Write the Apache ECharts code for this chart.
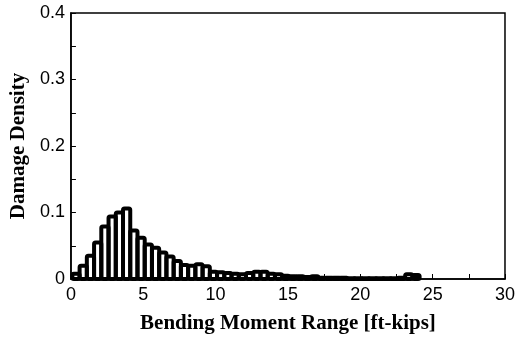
<!DOCTYPE html>
<html><head><meta charset="utf-8">
<script src="https://cdn.jsdelivr.net/npm/echarts@6/dist/echarts.min.js"></script>
<style>html,body{margin:0;padding:0;background:#fff}#c{width:518px;height:339px}</style>
</head><body><div id="c"></div>
<script>
// bin centres [ft-kips]
const binCenters = [0.35,0.85,1.35,1.85,2.35,2.85,3.35,3.85,4.35,4.85,5.35,5.85,6.35,6.85,7.35,7.85,
  8.35,8.85,9.35,9.85,10.35,10.85,11.35,11.85,12.35,12.85,13.35,13.85,14.35,14.85,15.35,15.85,
  16.35,16.85,17.35,17.85,18.35,18.85,19.35,19.85,20.35,20.85,21.35,21.85,22.35,22.85,23.35,23.85];
// damage density per bin
const density = [0.008,0.020,0.035,0.055,0.079,0.094,0.100,0.106,0.073,0.062,0.052,0.047,0.040,0.034,0.027,0.021,
  0.020,0.022,0.019,0.011,0.010,0.009,0.008,0.007,0.009,0.011,0.011,0.008,0.007,0.005,0.004,0.004,
  0.003,0.004,0.002,0.002,0.002,0.002,0.001,0.001,0.001,0.001,0.001,0.001,0.001,0.002,0.007,0.006];
const xTicks = [0,5,10,15,20,25,30];
const yTicks = [0,0.1,0.2,0.3,0.4];
const binWidth = 0.5;

const chart = echarts.init(document.getElementById('c'));
const data = binCenters.map((x,i)=>[x, density[i]]);
chart.setOption({
  animation:false,
  grid:{left:65,right:9,top:13,bottom:55,show:true,borderColor:'#000',borderWidth:1.5,backgroundColor:'transparent'},
  xAxis:{type:'value',min:xTicks[0],max:xTicks[xTicks.length-1],interval:5,
    name:'Bending Moment Range [ft-kips]',nameLocation:'middle',nameGap:34,
    nameTextStyle:{fontFamily:'Liberation Serif',fontWeight:'bold',fontSize:21,color:'#000'},
    axisLine:{show:true,lineStyle:{color:'#000',width:1.5}},
    axisTick:{show:true,inside:true,length:5,lineStyle:{color:'#000',width:1}},
    minorTick:{show:true,splitNumber:2,length:5,lineStyle:{color:'#000',width:1}},
    axisLabel:{fontFamily:'Liberation Sans',fontSize:18,color:'#000',margin:7},
    splitLine:{show:false}},
  yAxis:{type:'value',min:yTicks[0],max:yTicks[yTicks.length-1],interval:0.1,
    name:'Damage Density',nameLocation:'middle',nameGap:38,
    nameTextStyle:{fontFamily:'Liberation Serif',fontWeight:'bold',fontSize:21,color:'#000'},
    axisLine:{show:true,lineStyle:{color:'#000',width:1.5}},
    axisTick:{show:true,inside:true,length:5,lineStyle:{color:'#000',width:1}},
    minorTick:{show:true,splitNumber:2,length:5,lineStyle:{color:'#000',width:1}},
    axisLabel:{fontFamily:'Liberation Sans',fontSize:18,color:'#000',margin:6,
      formatter:v=>v===0?'0':v.toFixed(1)},
    splitLine:{show:false}},
  series:[{
    type:'custom',
    data:data,
    clip:false,
    renderItem:function(params,api){
      const x=api.value(0), y=api.value(1);
      const p0=api.coord([x-binWidth/2,0]);
      const p1=api.coord([x+binWidth/2,y]);
      return {type:'rect',shape:{x:p0[0],y:p1[1],width:p1[0]-p0[0],height:p0[1]-p1[1],r:1.5},
        style:{fill:'none',stroke:'#000',lineWidth:4,lineJoin:'round'}};
    }
  }]
});
</script></body></html>
